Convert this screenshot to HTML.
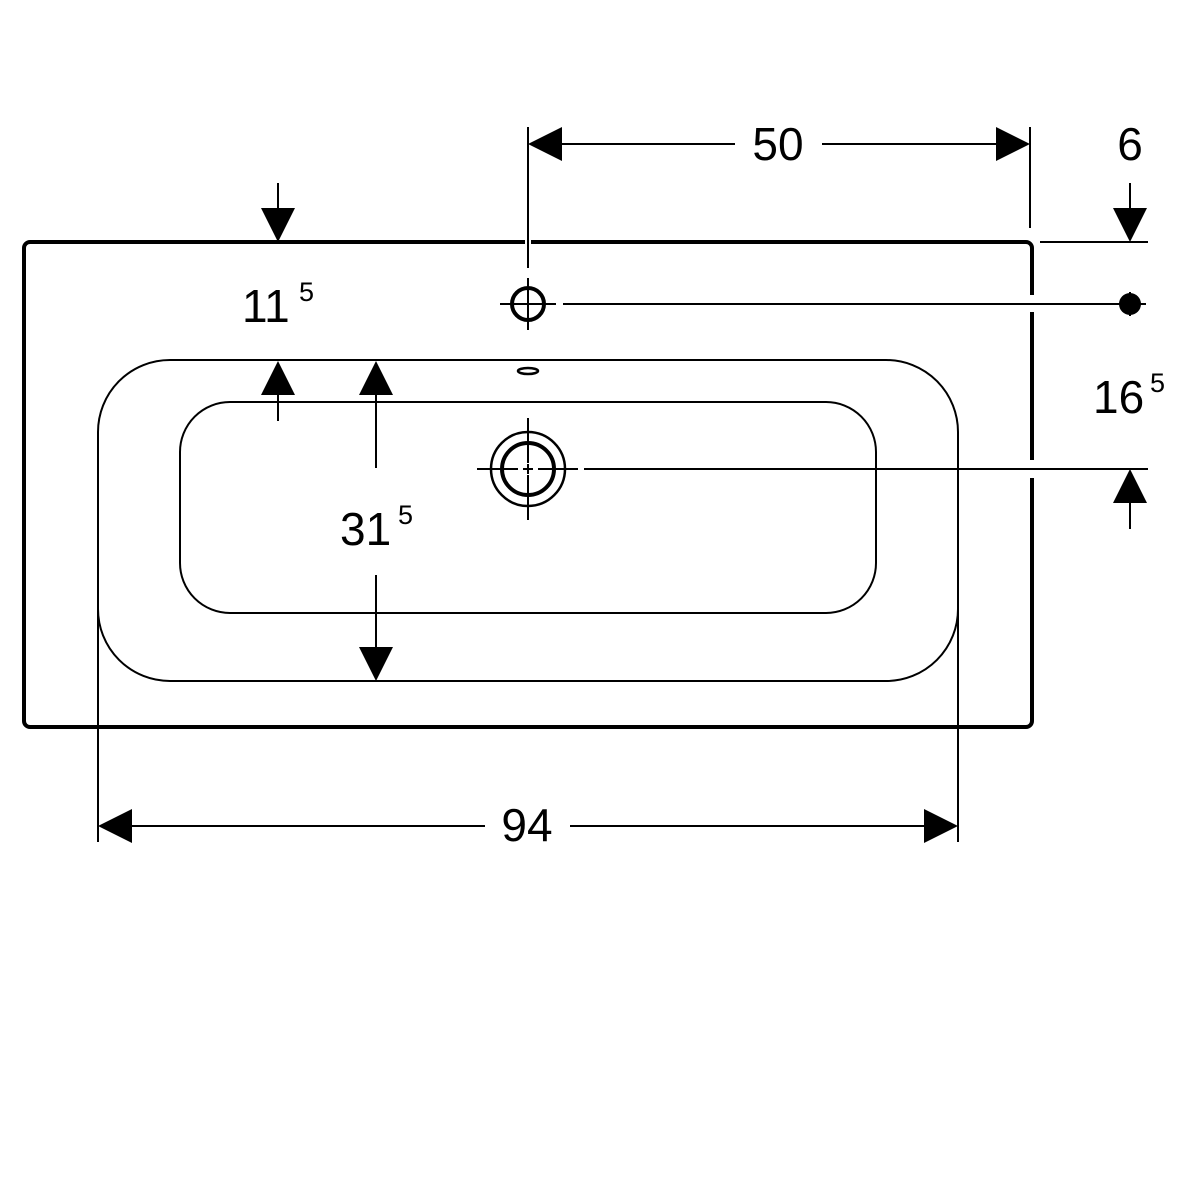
<!DOCTYPE html>
<html><head><style>body{margin:0;background:#fff}svg{display:block}text{font-family:"Liberation Sans",sans-serif;fill:#000}</style></head>
<body>
<svg width="1200" height="1200" viewBox="0 0 1200 1200">
<rect width="1200" height="1200" fill="#fff"/>
<g fill="none" stroke="#000">
<rect x="24" y="242" width="1008" height="485" rx="6" stroke-width="4"/>
<rect x="98" y="360" width="860" height="321" rx="72" stroke-width="2"/>
<rect x="180" y="402" width="696" height="211" rx="50" stroke-width="2"/>
</g>
<g stroke="#fff" stroke-width="6">
<line x1="528" y1="233" x2="528" y2="251"/>
<line x1="1032" y1="295" x2="1032" y2="312"/>
<line x1="1032" y1="460" x2="1032" y2="478"/>
</g>
<g stroke="#000" stroke-width="2" fill="none">
<line x1="528" y1="127" x2="528" y2="268"/>
<line x1="1030" y1="127" x2="1030" y2="228"/>
<line x1="560" y1="144" x2="735" y2="144"/>
<line x1="822" y1="144" x2="1000" y2="144"/>
<line x1="1040" y1="242" x2="1148" y2="242"/>
<line x1="563" y1="304" x2="1146" y2="304"/>
<line x1="1130" y1="292" x2="1130" y2="316"/>
<line x1="584" y1="469" x2="1148" y2="469"/>
<line x1="1130" y1="183" x2="1130" y2="212"/>
<line x1="1130" y1="500" x2="1130" y2="529"/>
<line x1="278" y1="183" x2="278" y2="212"/>
<line x1="278" y1="392" x2="278" y2="421"/>
<line x1="376" y1="392" x2="376" y2="468"/>
<line x1="376" y1="575" x2="376" y2="650"/>
<line x1="98" y1="598" x2="98" y2="842"/>
<line x1="958" y1="598" x2="958" y2="842"/>
<line x1="130" y1="826" x2="485" y2="826"/>
<line x1="570" y1="826" x2="926" y2="826"/>
<circle cx="528" cy="304" r="16" stroke-width="4"/>
<line x1="500" y1="304" x2="556" y2="304"/>
<line x1="528" y1="278" x2="528" y2="330"/>
<ellipse cx="528" cy="371" rx="10" ry="3" stroke-width="2.5"/>
<circle cx="528" cy="469" r="37" stroke-width="2.5"/>
<circle cx="528" cy="469" r="26" stroke-width="4"/>
<line x1="477" y1="469" x2="578" y2="469"/>
<line x1="528" y1="418" x2="528" y2="520"/>
<line x1="528" y1="463" x2="528" y2="475" stroke="#fff" stroke-width="10"/>
<line x1="518" y1="469" x2="538" y2="469" stroke="#fff" stroke-width="10"/>
<line x1="523" y1="469" x2="533" y2="469"/>
<line x1="528" y1="464" x2="528" y2="474"/>
</g>
<circle cx="1130" cy="304" r="11" fill="#000"/>
<g fill="#000">
<polygon points="528,144 562,127 562,161"/>
<polygon points="1030,144 996,127 996,161"/>
<polygon points="1130,242 1113,208 1147,208"/>
<polygon points="1130,469 1113,503 1147,503"/>
<polygon points="278,242 261,208 295,208"/>
<polygon points="278,361 261,395 295,395"/>
<polygon points="376,361 359,395 393,395"/>
<polygon points="376,681 359,647 393,647"/>
<polygon points="98,826 132,809 132,843"/>
<polygon points="958,826 924,809 924,843"/>
</g>
<text x="778" y="160" font-size="46" text-anchor="middle">50</text>
<text x="1130" y="160" font-size="46" text-anchor="middle">6</text>
<text x="242" y="322" font-size="46">11</text>
<text x="299" y="301" font-size="27">5</text>
<text x="1093" y="413" font-size="46">16</text>
<text x="1150" y="392" font-size="27">5</text>
<text x="340" y="545" font-size="46">31</text>
<text x="398" y="524" font-size="27">5</text>
<text x="527" y="841" font-size="46" text-anchor="middle">94</text>
</svg>
</body></html>
